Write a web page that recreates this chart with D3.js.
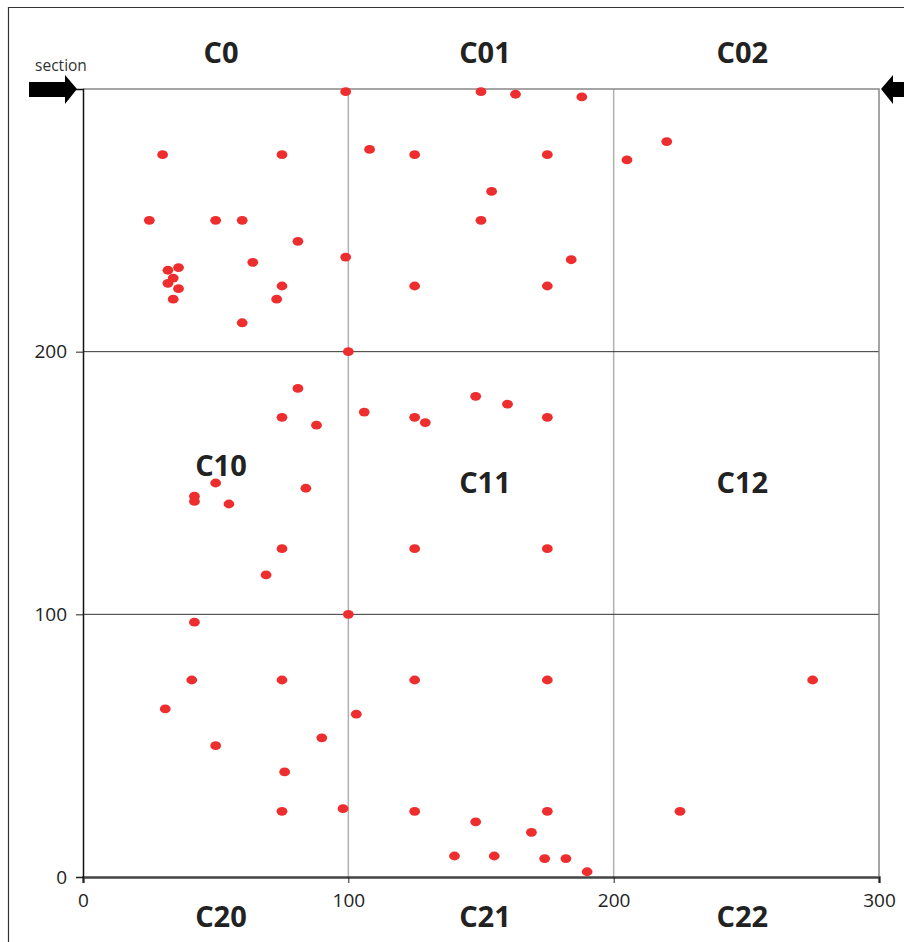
<!DOCTYPE html>
<html>
<head>
<meta charset="utf-8">
<script src="https://cdn.jsdelivr.net/npm/d3@7"></script>
<style>
  body { margin: 0; background: #fff; }
  text { font-family: "Open Sans", sans-serif; }
</style>
</head>
<body>
<div id="chart"></div>
<script>
// points (data units, 0-300 both ways)
xValues = [99, 30, 75, 108, 125, 25, 50, 60, 81, 64, 99, 32, 36, 34, 32, 36, 34, 75, 73, 60,
           150, 163, 188, 175, 205, 220, 154, 150, 184, 125, 175,
           100, 81, 75, 88, 106, 50, 42, 42, 55, 84, 75, 69, 125, 129, 148, 160, 175, 125, 175,
           100, 42, 41, 75, 31, 50, 90, 76, 75, 98, 103, 125, 175, 125, 175, 148, 169, 140, 155,
           174, 182, 190, 275, 225];
yValues = [299, 275, 275, 277, 275, 250, 250, 250, 242, 234, 236, 231, 232, 228, 226, 224, 220, 225, 220, 211,
           299, 298, 297, 275, 273, 280, 261, 250, 235, 225, 225,
           200, 186, 175, 172, 177, 150, 145, 143, 142, 148, 125, 115, 175, 173, 183, 180, 175, 125, 125,
           100, 97, 75, 75, 64, 50, 53, 40, 25, 26, 62, 75, 75, 25, 25, 21, 17, 8, 8,
           7, 7, 2, 75, 25];

xTicks = [0, 100, 200, 300];
yTicks = [0, 100, 200];
cellNames = ['C0', 'C01', 'C02', 'C10', 'C11', 'C12', 'C20', 'C21', 'C22'];
cellX = [52, 151.5, 248.5, 52, 151.5, 248.5, 52, 151.5, 248.5];
cellY = [314, 314, 314, 156.5, 150, 150, -15, -15, -15];

const W = 904, H = 942;
const x = d3.scaleLinear().domain([0, 300]).range([83, 879]);
const y = d3.scaleLinear().domain([0, 300]).range([877, 89]);

const svg = d3.select('#chart').append('svg')
  .attr('width', W)
  .attr('height', H);

// outer frame (runs off the right and bottom)
svg.append('path')
  .attr('d', 'M8.5,' + (H + 5) + 'V7.5H' + (W + 5))
  .attr('fill', 'none')
  .attr('stroke', '#333')
  .attr('stroke-width', 1.2);

// light vertical grid
svg.selectAll('.vgrid')
  .data([100, 200])
  .enter()
  .append('line')
  .attr('x1', d => x(d)).attr('x2', d => x(d))
  .attr('y1', y(300)).attr('y2', y(0))
  .attr('stroke', '#b0b0b0')
  .attr('stroke-width', 1.5);

// dark horizontal grid
svg.selectAll('.hgrid')
  .data([100, 200])
  .enter()
  .append('line')
  .attr('x1', x(0)).attr('x2', x(300))
  .attr('y1', d => y(d)).attr('y2', d => y(d))
  .attr('stroke', '#333')
  .attr('stroke-width', 1);

// top and right border
svg.append('path')
  .attr('d', 'M' + x(0) + ',' + y(300) + 'H' + x(300) + 'V' + y(0))
  .attr('fill', 'none')
  .attr('stroke', '#888')
  .attr('stroke-width', 1.5);

const xAxis = svg.append('g')
  .attr('transform', 'translate(0,' + y(0) + ')')
  .call(d3.axisBottom(x).tickValues(xTicks).tickSize(6).tickPadding(11).tickFormat(d3.format('d')));
xAxis.select('.domain').attr('stroke', '#444').attr('stroke-width', 2.5);

const yAxis = svg.append('g')
  .attr('transform', 'translate(' + x(0) + ',0)')
  .call(d3.axisLeft(y).tickValues(yTicks).tickSize(7).tickPadding(9).tickFormat(d3.format('d')));
yAxis.select('.domain').attr('stroke', '#111').attr('stroke-width', 1.5);

svg.selectAll('.tick text')
  .attr('font-family', '"Open Sans", sans-serif')
  .attr('font-size', 19)
  .attr('fill', '#222');
svg.selectAll('.tick line').attr('stroke', '#222');

// points
svg.selectAll('ellipse')
  .data(xValues)
  .enter()
  .append('ellipse')
  .attr('cx', (d, i) => x(d))
  .attr('cy', (d, i) => y(yValues[i]))
  .attr('rx', 5.4)
  .attr('ry', 4.4)
  .attr('fill', '#ee2e2e');

// cell names
svg.selectAll('.cell')
  .data(cellNames)
  .enter()
  .append('text')
  .attr('x', (d, i) => x(cellX[i]))
  .attr('y', (d, i) => y(cellY[i]))
  .attr('dy', '0.36em')
  .attr('text-anchor', 'middle')
  .attr('font-size', 29)
  .attr('font-weight', 'bold')
  .attr('fill', '#222')
  .text(d => d);

// section arrows
svg.append('text')
  .attr('x', 61).attr('y', 71)
  .attr('text-anchor', 'middle')
  .attr('font-size', 15.5)
  .attr('fill', '#333')
  .text('section');

const ay = y(300);
svg.append('path')
  .attr('d', 'M29,' + (ay - 7) + 'H65V' + (ay - 14) + 'L' + (x(0) - 6) + ',' + ay + 'L65,' + (ay + 15) + 'V' + (ay + 8) + 'H29Z')
  .attr('fill', '#000');
svg.append('path')
  .attr('d', 'M' + (W + 2) + ',' + (ay - 7) + 'H893V' + (ay - 14) + 'L' + (x(300) + 2) + ',' + ay + 'L893,' + (ay + 15) + 'V' + (ay + 8) + 'H' + (W + 2) + 'Z')
  .attr('fill', '#000');
</script>
</body>
</html>
